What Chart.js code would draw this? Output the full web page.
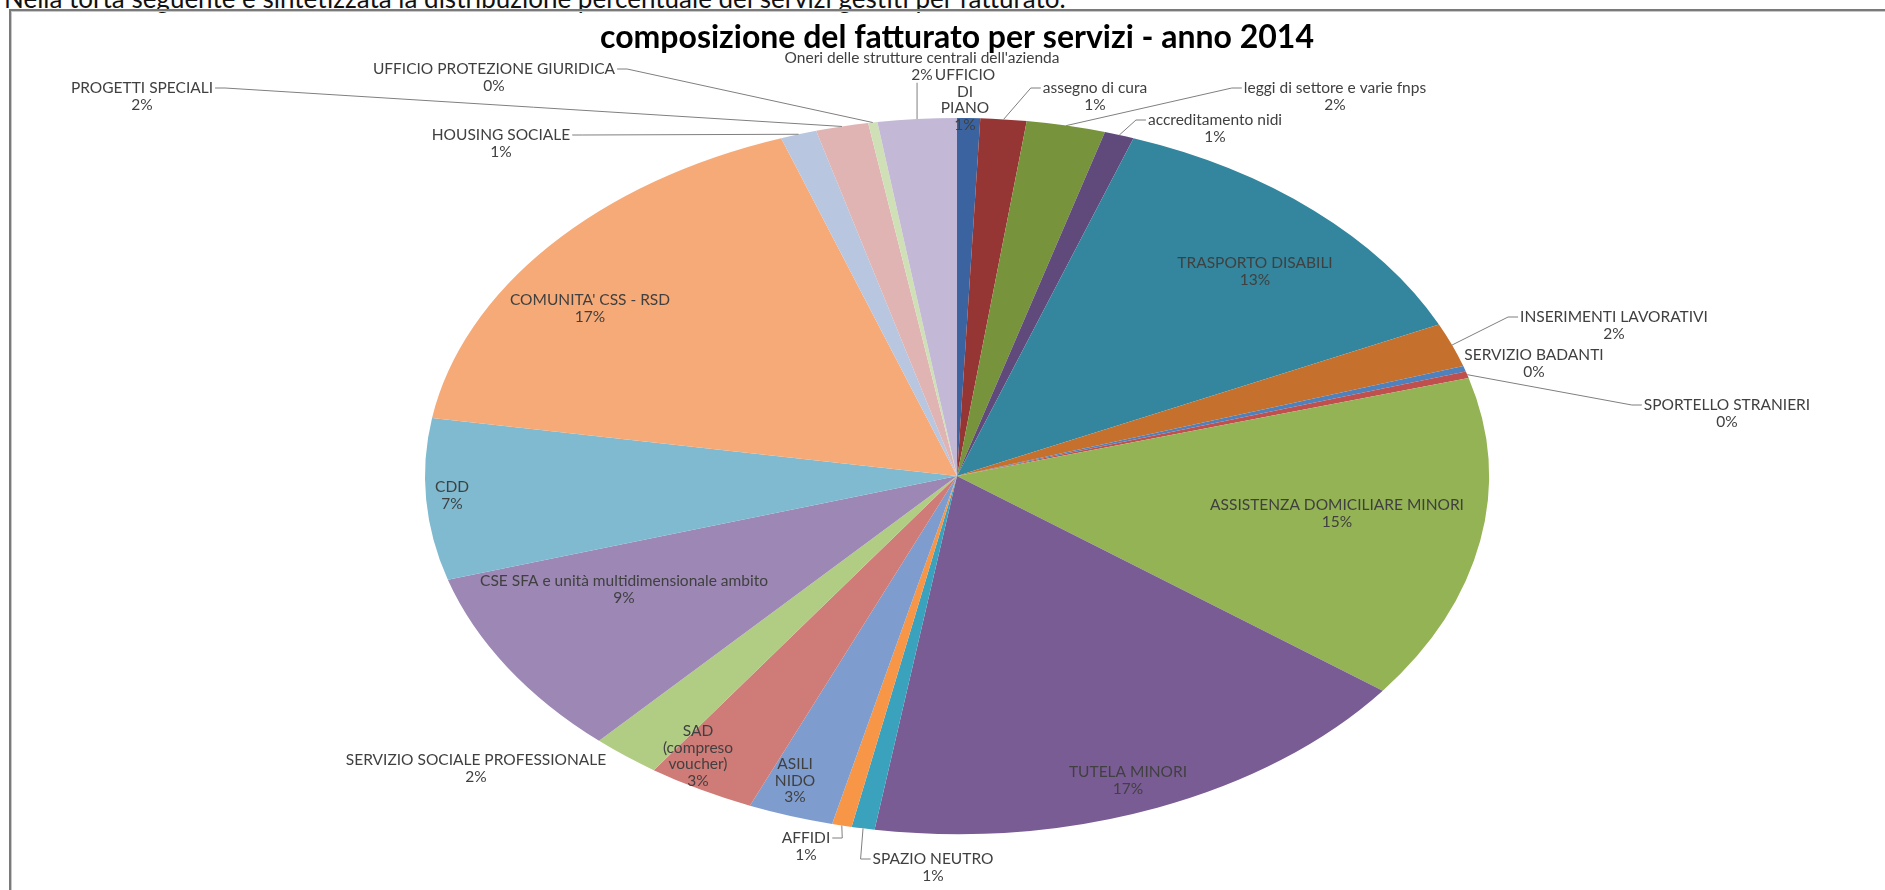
<!DOCTYPE html>
<html>
<head>
<meta charset="utf-8">
<script src="https://cdn.jsdelivr.net/npm/chart.js@4.4.0/dist/chart.umd.min.js"></script>
<style>
  html, body { margin: 0; padding: 0; background: #fff; }
  body { width: 1885px; height: 890px; overflow: hidden; position: relative; }
  #caption { position: absolute; left: 4px; top: -18px; font: 26px Lato, sans-serif; color: #111; white-space: nowrap; }
  #frame { position: absolute; left: 9px; top: 9px; width: 2000px; height: 1000px;
           border-left: 2px solid #7a7a7a; border-top: 2px solid #7a7a7a;
           box-shadow: inset 1px 1px 0 #c8c8c8; }
  #wrap { position: absolute; left: 0; top: 0; width: 1885px; height: 890px; }
</style>
</head>
<body>
<div id="caption">Nella torta seguente è sintetizzata la distribuzione percentuale dei servizi gestiti per fatturato.</div>
<div id="frame"></div>
<div id="wrap"><canvas id="chart"></canvas></div>
<script>
// Services, clockwise from the top
const categories = [
  'UFFICIO DI PIANO',
  'assegno di cura',
  'leggi di settore e varie fnps',
  'accreditamento nidi',
  'TRASPORTO DISABILI',
  'INSERIMENTI LAVORATIVI',
  'SERVIZIO BADANTI',
  'SPORTELLO STRANIERI',
  'ASSISTENZA DOMICILIARE MINORI',
  'TUTELA MINORI',
  'SPAZIO NEUTRO',
  'AFFIDI',
  'ASILI NIDO',
  'SAD (compreso voucher)',
  'SERVIZIO SOCIALE PROFESSIONALE',
  'CSE SFA e unità multidimensionale ambito',
  'CDD',
  "COMUNITA' CSS - RSD",
  'HOUSING SOCIALE',
  'PROGETTI SPECIALI',
  'UFFICIO PROTEZIONE GIURIDICA',
  "Oneri delle strutture centrali dell'azienda",
];

// share of turnover (%)
const shares = [
  0.7, 1.4, 2.4, 0.9, 12.7, 2.0, 0.25, 0.3, 14.7, 17.3, 0.7,
  0.6, 2.6, 3.3, 2.1, 8.6, 7.3, 17.1, 1.1, 1.6, 0.28, 2.4,
];

const sliceColors = [
  '#3A63A0', '#963634', '#77933C', '#604A7B', '#33869D', '#C6702E',
  '#4F81BD', '#C0504D', '#93B354', '#7A5C95', '#3AA2BC', '#F79646',
  '#7E9DCE', '#CF7C78', '#B1CD84', '#9C87B5', '#7FBAD0', '#F6AA78',
  '#B9C6E0', '#E0B4B3', '#CFE0B7', '#C3B9D6',
];

// where Excel put each data label (centre of first line), wrap = one word per line
const labelLayout = [
  { x: 965, y: 75, wrap: true },
  { x: 1095, y: 88, leader: true },
  { x: 1335, y: 88, leader: true },
  { x: 1215, y: 120, leader: true },
  { x: 1255, y: 263 },
  { x: 1614, y: 317, leader: true },
  { x: 1534, y: 355 },
  { x: 1727, y: 405, leader: true },
  { x: 1337, y: 505 },
  { x: 1128, y: 772 },
  { x: 933, y: 859, leader: true },
  { x: 806, y: 838, leader: true },
  { x: 795, y: 764, wrap: true },
  { x: 698, y: 731, wrap: true },
  { x: 476, y: 760 },
  { x: 624, y: 581 },
  { x: 452, y: 487 },
  { x: 590, y: 300 },
  { x: 501, y: 135, leader: true },
  { x: 142, y: 88, leader: true },
  { x: 494, y: 69, leader: true },
  { x: 922, y: 58, leader: true },
];

const STRETCH = 532 / 358; // the picture's pie is an ellipse
const LABEL_FONT = '15.5px Lato, sans-serif';
const LINE_H = 16.5;

// squash the circle Chart.js draws into the wide ellipse of the original
const ellipsePlugin = {
  id: 'ellipse',
  beforeDatasetsDraw(chart) {
    const arc = chart.getDatasetMeta(0).data[0];
    const ctx = chart.ctx;
    ctx.save();
    ctx.translate(arc.x, arc.y);
    ctx.scale(STRETCH, 1);
    ctx.translate(-arc.x, -arc.y);
  },
  afterDatasetsDraw(chart) {
    chart.ctx.restore();
  },
};

const labelPlugin = {
  id: 'sliceLabels',
  afterDraw(chart) {
    const ctx = chart.ctx;
    const arcs = chart.getDatasetMeta(0).data;
    const total = shares.reduce((a, b) => a + b, 0);
    ctx.save();
    ctx.font = LABEL_FONT;
    ctx.fillStyle = '#404040';
    ctx.textAlign = 'center';
    ctx.textBaseline = 'middle';

    arcs.forEach((arc, i) => {
      const lay = labelLayout[i];
      const name = categories[i];
      const lines = lay.wrap ? name.split(' ') : [name];
      lines.push(Math.round((shares[i] / total) * 100) + '%');

      const bottom = lay.y + (lines.length - 0.5) * LINE_H;

      if (lay.leader) {
        const mid = (arc.startAngle + arc.endAngle) / 2;
        const rx = arc.x + STRETCH * arc.outerRadius * Math.cos(mid);
        const ry = arc.y + arc.outerRadius * Math.sin(mid);
        const w0 = ctx.measureText(lines[0]).width;
        ctx.beginPath();
        ctx.strokeStyle = '#7f7f7f';
        ctx.lineWidth = 1;
        ctx.moveTo(rx, ry);
        if (rx > lay.x + w0 / 2) {
          ctx.lineTo(lay.x + w0 / 2 + 12, lay.y);
          ctx.lineTo(lay.x + w0 / 2 + 2, lay.y);
        } else if (rx < lay.x - w0 / 2) {
          ctx.lineTo(lay.x - w0 / 2 - 12, lay.y);
          ctx.lineTo(lay.x - w0 / 2 - 2, lay.y);
        } else {
          ctx.lineTo(rx, bottom);
        }
        ctx.stroke();
      }

      lines.forEach((l, k) => ctx.fillText(l, lay.x, lay.y + k * LINE_H));
    });
    ctx.restore();
  },
};

const ctx = document.getElementById('chart').getContext('2d');
new Chart(ctx, {
  type: 'pie',
  data: {
    labels: categories,
    datasets: [
      {
        data: shares,
        backgroundColor: sliceColors,
        borderWidth: 0,
        clip: false,
      },
    ],
  },
  options: {
    responsive: true,
    maintainAspectRatio: false,
    animation: false,
    layout: {
      padding: { top: 18, left: 557, right: 528, bottom: 56 },
    },
    plugins: {
      legend: { display: false },
      tooltip: { enabled: false },
      title: {
        display: true,
        text: 'composizione del fatturato per servizi - anno 2014',
        color: '#000',
        font: { family: 'Lato', size: 32, weight: 'bold' },
        padding: { top: 0, bottom: 61.6 },
      },
    },
  },
  plugins: [ellipsePlugin, labelPlugin],
});
</script>
</body>
</html>
